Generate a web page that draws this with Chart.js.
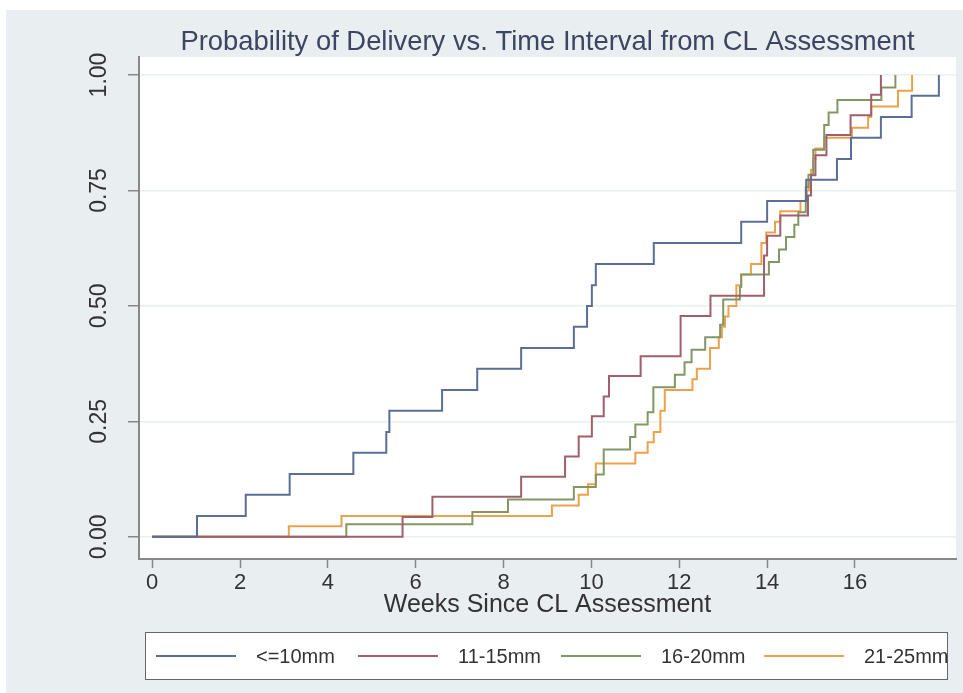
<!DOCTYPE html>
<html>
<head>
<meta charset="utf-8">
<script src="https://cdn.jsdelivr.net/npm/chart.js@4.4.1/dist/chart.umd.min.js"></script>
<style>
  html, body { margin: 0; padding: 0; background: #fff; }
  #wrap { position: relative; width: 963px; height: 693px; font-family: "Liberation Sans", Arial, sans-serif; }
  #legend { position: absolute; left: 145px; top: 632px; width: 801px; height: 46px;
            background: #fff; border: 1.5px solid #666; }
  .item { position: absolute; top: 0; height: 46px; display: flex; align-items: center; font-size: 20px; color: #333; white-space: nowrap; }
  .item span.sw { display: inline-block; width: 80px; height: 2px; margin-right: 20px; }
</style>
</head>
<body>
<div id="wrap">
  <canvas id="km" width="963" height="693"></canvas>
  <div id="legend"></div>
</div>
<script>
// Group labels and colours
const groups = ['<=10mm', '11-15mm', '16-20mm', '21-25mm'];
const colors = ['#5b6f96', '#a05f6a', '#819766', '#eba24a'];

// Weeks since CL assessment at each step, and cumulative probability of delivery
const weeks10 = [0, 1.02, 2.13, 3.13, 4.58, 5.33, 5.40, 6.60, 7.40, 8.40, 9.60, 9.90, 10.01, 10.10, 11.42, 13.41, 14.0, 14.89, 15.59, 15.91, 16.59, 17.29, 17.91];
const prob10 = [0, .045, .091, .136, .182, .227, .273, .318, .364, .409, .455, .5, .545, .591, .636, .682, .727, .773, .818, .864, .909, .955, 1];

const weeks15 = [0, 5.70, 6.38, 8.40, 9.40, 9.71, 10.01, 10.28, 10.40, 11.12, 12.03, 12.71, 13.93, 14.0, 14.3, 14.93, 15.0, 15.1, 15.35, 15.9, 16.37, 16.59];
const prob15 = [0, .043, .087, .13, .174, .217, .261, .304, .348, .391, .478, .522, .609, .652, .696, .739, .783, .826, .87, .913, .957, 1];

const weeks20 = [0, 4.42, 7.29, 8.10, 9.60, 10.10, 10.28, 10.88, 11.0, 11.28, 11.41, 11.90, 12.12, 12.28, 12.59, 12.93, 13.0, 13.38, 13.41, 14.04, 14.27, 14.43, 14.62, 14.71, 14.88, 14.94, 15.05, 15.3, 15.4, 15.6, 16.6, 16.92];
const prob20 = [0, .027, .054, .081, .108, .135, .189, .216, .243, .27, .324, .351, .378, .405, .432, .459, .514, .541, .568, .595, .622, .649, .676, .703, .757, .784, .838, .892, .919, .946, .973, 1];

const weeks25 = [0, 3.11, 4.31, 9.10, 9.71, 9.92, 10.10, 11.0, 11.28, 11.42, 11.57, 11.67, 12.30, 12.40, 12.70, 12.90, 12.97, 13.04, 13.12, 13.30, 13.41, 13.63, 13.87, 13.98, 14.18, 14.3, 14.76, 14.9, 14.96, 15.0, 15.05, 15.1, 15.3, 15.93, 16.3, 16.37, 16.98, 17.3];
const prob25 = [0, .023, .045, .068, .091, .114, .159, .182, .205, .227, .273, .318, .341, .364, .409, .432, .455, .477, .5, .545, .568, .591, .636, .659, .682, .705, .727, .75, .773, .795, .818, .841, .864, .886, .909, .932, .966, 1];

const xTicks = [0, 2, 4, 6, 8, 10, 12, 14, 16];
const yTicks = [0, 0.25, 0.5, 0.75, 1];

const seriesWeeks = [weeks10, weeks15, weeks20, weeks25];
const seriesProb = [prob10, prob15, prob20, prob25];

const datasets = groups.map((g, i) => ({
    label: g,
    data: seriesWeeks[i].map((w, j) => ({ x: w, y: seriesProb[i][j] })),
    borderColor: colors[i],
    borderWidth: 2,
    pointRadius: 0,
    fill: false,
    stepped: 'before'
}));

// Stata-like backdrop: grey graph region, white plot region
const backdrop = {
    id: 'backdrop',
    beforeDraw(chart) {
        const { ctx, chartArea: a } = chart;
        ctx.save();
        ctx.fillStyle = '#fff';
        ctx.fillRect(0, 0, chart.width, chart.height);
        ctx.fillStyle = '#e9eef1';
        ctx.fillRect(6, 10, chart.width - 6, chart.height - 10);
        ctx.fillStyle = '#fff';
        ctx.fillRect(a.left, a.top, a.right - a.left, a.bottom - a.top);
        ctx.restore();
    }
};

// Title centred over the plot region, y labels rotated like Stata
const texts = {
    id: 'texts',
    afterDraw(chart) {
        const { ctx, chartArea: a } = chart;
        const y = chart.scales.y;
        ctx.save();
        ctx.fillStyle = '#3d4660';
        ctx.font = '27.4px "Liberation Sans", Arial, sans-serif';
        ctx.textAlign = 'center';
        ctx.textBaseline = 'middle';
        ctx.fillText('Probability of Delivery vs. Time Interval from CL Assessment', (a.left + a.right) / 2, 42);
        ctx.fillStyle = '#333';
        ctx.font = '23px "Liberation Sans", Arial, sans-serif';
        y.ticks.forEach(t => {
            ctx.save();
            ctx.translate(100, y.getPixelForValue(t.value));
            ctx.rotate(-Math.PI / 2);
            ctx.fillText(t.value.toFixed(2), 0, 0);
            ctx.restore();
        });
        ctx.restore();
    }
};

new Chart(document.getElementById('km'), {
    type: 'line',
    data: { datasets: datasets },
    options: {
        responsive: false,
        animation: false,
        devicePixelRatio: 1,
        layout: { padding: { left: 0, top: 57, right: 7, bottom: 73 } },
        plugins: { legend: { display: false }, tooltip: { enabled: false } },
        scales: {
            x: {
                type: 'linear',
                min: -0.3,
                max: 18.3,
                afterBuildTicks: s => { s.ticks = xTicks.map(v => ({ value: v })); },
                afterFit: s => { s.height = 61; },
                grid: { drawOnChartArea: false, tickLength: 9, tickColor: '#888', tickWidth: 1.5 },
                border: { color: '#888', width: 2 },
                ticks: { color: '#333', font: { size: 22, family: '"Liberation Sans", Arial' }, padding: 2, maxRotation: 0 },
                title: { display: true, text: 'Weeks Since CL Assessment', color: '#333',
                         font: { size: 25, family: '"Liberation Sans", Arial' }, padding: 0 }
            },
            y: {
                min: -0.048,
                max: 1.039,
                afterBuildTicks: s => { s.ticks = yTicks.map(v => ({ value: v })); },
                afterFit: s => { s.width = 139; },
                grid: { color: '#eaf0f0', lineWidth: 1.5, tickLength: 11, tickColor: '#888', tickWidth: 1.5 },
                border: { color: '#888', width: 2 },
                ticks: { display: false }
            }
        }
    },
    plugins: [backdrop, texts]
});

// Legend box below the plot
const legend = document.getElementById('legend');
const itemLeft = [10, 212, 415, 618];
groups.forEach((g, i) => {
    const d = document.createElement('div');
    d.className = 'item';
    d.style.left = itemLeft[i] + 'px';
    d.innerHTML = '<span class="sw" style="background:' + colors[i] + '"></span>' + g.replace('<', '&lt;');
    legend.appendChild(d);
});
</script>
</body>
</html>
